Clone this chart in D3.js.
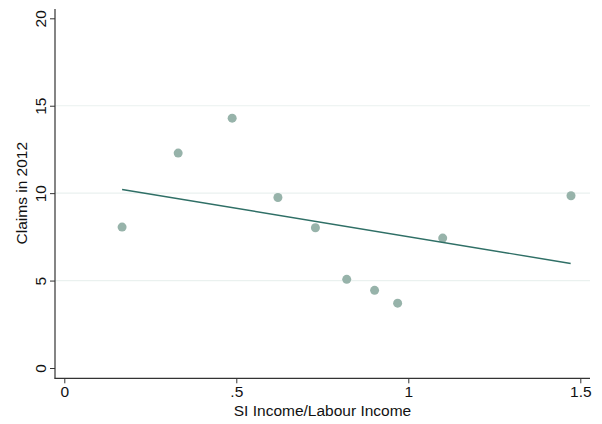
<!DOCTYPE html>
<html lang="en">
<head>
<meta charset="utf-8">
<script src="https://d3js.org/d3.v7.min.js"></script>
<style>
  body { margin: 0; background: #fff; }
  text { font-family: "Liberation Sans", Arial, sans-serif; fill: #111; }
</style>
</head>
<body>
<div id="chart"></div>
<script>
// ratio of SI income to labour income, and claims in 2012
const ratio  = [0.168, 0.331, 0.488, 0.621, 0.730, 0.821, 0.902, 0.969, 1.100, 1.473];
const claims = [8.06, 12.29, 14.29, 9.75, 8.02, 5.07, 4.44, 3.71, 7.43, 9.85];
// fitted line end points
const fitX = [0.168, 1.472];
const fitY = [10.21, 5.98];
const xTicks = [0, 0.5, 1, 1.5];
const xTickLabels = ["0", ".5", "1", "1.5"];
const yTicks = [0, 5, 10, 15, 20];

const width = 602, height = 424;
const fs = 15.5;

const svg = d3.select("#chart").append("svg")
  .attr("width", width)
  .attr("height", height);

const x = d3.scaleLinear().domain([0, 1.5]).range([64.3, 580.3]);
const y = d3.scaleLinear().domain([0, 20]).range([368, 18.3]);

// gridlines
svg.append("g")
  .selectAll("line")
  .data(yTicks.filter(d => d > 0 && d < 20))
  .join("line")
  .attr("x1", 55).attr("x2", 590)
  .attr("y1", d => y(d)).attr("y2", d => y(d))
  .attr("stroke", "#eaf1ef")
  .attr("stroke-width", 1.2);

// y axis
const yAxis = svg.append("g")
  .attr("transform", "translate(55,0)")
  .call(d3.axisLeft(y).tickValues(yTicks).tickSize(5).tickPadding(4).tickSizeOuter(0));
yAxis.select(".domain").remove();
yAxis.append("line").attr("x1", 0).attr("x2", 0).attr("y1", 9).attr("y2", 378.5)
  .attr("stroke", "#333").attr("stroke-width", 1.2);
yAxis.selectAll(".tick line").attr("stroke", "#333");
yAxis.selectAll(".tick text")
  .attr("font-size", fs)
  .attr("fill", "#111")
  .attr("text-anchor", "middle")
  .attr("x", null).attr("dy", null)
  .attr("transform", "translate(-13,0) rotate(-90)")
  .attr("y", 0)
  .attr("dominant-baseline", "middle");

// x axis
const xAxis = svg.append("g")
  .attr("transform", "translate(0,378.3)")
  .call(d3.axisBottom(x).tickValues(xTicks).tickFormat((d, i) => xTickLabels[i])
    .tickSize(5).tickPadding(3).tickSizeOuter(0));
xAxis.select(".domain").remove();
xAxis.append("line").attr("x1", 54.4).attr("x2", 590).attr("y1", 0).attr("y2", 0)
  .attr("stroke", "#333").attr("stroke-width", 1.2);
xAxis.selectAll(".tick line").attr("stroke", "#333");
xAxis.selectAll(".tick text").attr("font-size", fs).attr("fill", "#111");

// axis titles
svg.append("text")
  .attr("transform", "translate(27," + ((18.3 + 368) / 2) + ") rotate(-90)")
  .attr("text-anchor", "middle")
  .attr("font-size", fs)
  .text("Claims in 2012");

svg.append("text")
  .attr("x", (55 + 590) / 2)
  .attr("y", 416)
  .attr("text-anchor", "middle")
  .attr("font-size", fs)
  .text("SI Income/Labour Income");

// points
svg.append("g")
  .selectAll("circle")
  .data(ratio)
  .join("circle")
  .attr("cx", d => x(d))
  .attr("cy", (d, i) => y(claims[i]))
  .attr("r", 4.5)
  .attr("fill", "#97b3aa");

// fitted line
svg.append("path")
  .datum(fitX.map((d, i) => [d, fitY[i]]))
  .attr("fill", "none")
  .attr("stroke", "#2f6f66")
  .attr("stroke-width", 1.4)
  .attr("d", d3.line().x(d => x(d[0])).y(d => y(d[1])));
</script>
</body>
</html>
